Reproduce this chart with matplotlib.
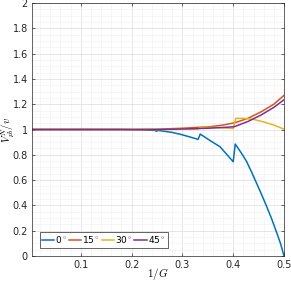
import matplotlib
matplotlib.use("Agg")
import matplotlib.pyplot as plt
import matplotlib.ticker as mt

plt.rcParams["mathtext.fontset"] = "cm"

x0 = [0.004, 0.18, 0.22, 0.246, 0.249, 0.252, 0.28, 0.30, 0.331, 0.335, 0.357, 0.374, 0.400, 0.404,
      0.415, 0.426, 0.436, 0.446, 0.456, 0.466, 0.476, 0.486, 0.493, 0.500]
y0 = [1.0, 1.0, 0.997, 0.993, 0.986, 0.993, 0.977, 0.958, 0.922, 0.964, 0.906, 0.864, 0.745, 0.885,
      0.82, 0.75, 0.665, 0.575, 0.485, 0.39, 0.29, 0.18, 0.10, 0.0]

x15 = [0.004, 0.20, 0.25, 0.30, 0.354, 0.380, 0.404, 0.43, 0.455, 0.48, 0.500]
y15 = [1.0, 1.0, 1.002, 1.01, 1.022, 1.035, 1.054, 1.09, 1.14, 1.20, 1.27]

x30 = [0.004, 0.25, 0.331, 0.335, 0.37, 0.400, 0.405, 0.42, 0.44, 0.46, 0.48, 0.500]
y30 = [1.0, 1.0, 1.004, 1.018, 1.016, 1.008, 1.088, 1.088, 1.08, 1.06, 1.035, 1.003]

x45 = [0.004, 0.20, 0.25, 0.30, 0.35, 0.380, 0.402, 0.43, 0.455, 0.48, 0.500]
y45 = [1.0, 1.0, 1.0, 1.004, 1.01, 1.016, 1.022, 1.065, 1.115, 1.175, 1.235]

labels = ["0$^\\circ$", "15$^\\circ$", "30$^\\circ$", "45$^\\circ$"]
colors = ["#0072BD", "#D95319", "#EDB120", "#7E2F8E"]

fig = plt.figure(figsize=(2.91, 2.83), dpi=100)
ax = fig.add_axes([0.110, 0.0954, 0.866, 0.894])
for xs, ys, lab, c in zip([x0, x15, x30, x45], [y0, y15, y30, y45], labels, colors):
    ax.plot(xs, ys, color=c, lw=1.1, label=lab)

ax.set_xlim(0.004, 0.5)
ax.set_ylim(0, 2)
ax.xaxis.set_major_locator(mt.MultipleLocator(0.1))
ax.yaxis.set_major_locator(mt.MultipleLocator(0.2))
ax.xaxis.set_minor_locator(mt.MultipleLocator(0.02))
ax.yaxis.set_minor_locator(mt.MultipleLocator(0.05))
ax.xaxis.set_major_formatter(mt.FuncFormatter(lambda v, p: f"{v:g}"))
ax.yaxis.set_major_formatter(mt.FuncFormatter(lambda v, p: f"{v:g}"))
ax.grid(which="major", color="#dcdcdc", lw=0.5)
ax.grid(which="minor", color="#efefef", lw=0.4)
ax.set_axisbelow(True)
ax.tick_params(which="both", direction="in", top=True, right=True, labelsize=7, colors="#262626",
               length=2.5, width=0.5, pad=3)
ax.tick_params(which="minor", length=0)
for s in ax.spines.values():
    s.set_color("#262626")
    s.set_linewidth(0.5)
ax.set_xlabel("$1/G$", fontsize=8)
ax.xaxis.set_label_coords(0.5, -0.04)
ax.set_ylabel("$V^N_{pb}/v$", fontsize=7.5)
ax.yaxis.set_label_coords(-0.058, 0.5)
leg = ax.legend(loc="lower left", ncol=4, fontsize=6.5, handlelength=1.4, handletextpad=0.1,
                columnspacing=0.15, borderpad=0.25, fancybox=False, framealpha=1,
                edgecolor="#262626", bbox_to_anchor=(0.012, 0.015))
leg.get_frame().set_linewidth(0.5)
fig.savefig("out.png", dpi=100)
